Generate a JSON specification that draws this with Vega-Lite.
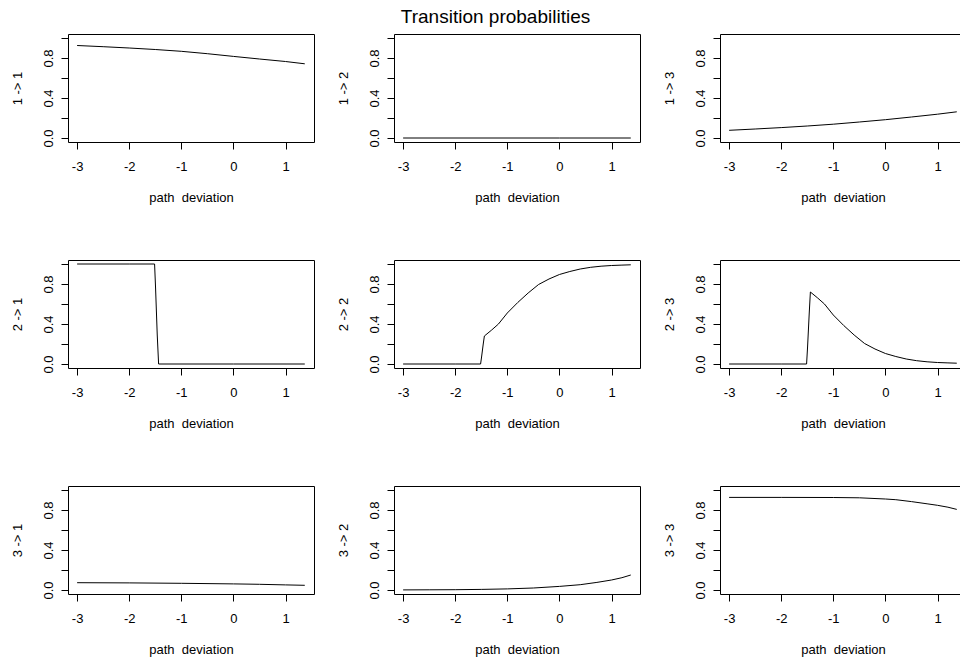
{
  "$schema": "https://vega.github.io/schema/vega-lite/v6.json",
  "padding": {"left": 10, "top": 7, "right": 0, "bottom": 0},
  "background": "white",
  "title": {"text": "Transition probabilities", "fontSize": 19, "fontWeight": "normal", "font": "Liberation Sans", "color": "black", "anchor": "middle", "baseline": "alphabetic", "offset": -8, "dx": 7},
  "data": {"values": [
    {"p": "1 -> 1", "x": -3, "y": 0.925}, {"p": "1 -> 1", "x": -2.5, "y": 0.913}, {"p": "1 -> 1", "x": -2, "y": 0.9}, {"p": "1 -> 1", "x": -1.5, "y": 0.885}, {"p": "1 -> 1", "x": -1, "y": 0.867}, {"p": "1 -> 1", "x": -0.5, "y": 0.843}, {"p": "1 -> 1", "x": 0, "y": 0.816}, {"p": "1 -> 1", "x": 0.5, "y": 0.79}, {"p": "1 -> 1", "x": 1, "y": 0.765}, {"p": "1 -> 1", "x": 1.37, "y": 0.742},
    {"p": "1 -> 2", "x": -3, "y": 0}, {"p": "1 -> 2", "x": 0, "y": 0}, {"p": "1 -> 2", "x": 1.37, "y": 0},
    {"p": "1 -> 3", "x": -3, "y": 0.077}, {"p": "1 -> 3", "x": -2.5, "y": 0.09}, {"p": "1 -> 3", "x": -2, "y": 0.104}, {"p": "1 -> 3", "x": -1.5, "y": 0.12}, {"p": "1 -> 3", "x": -1, "y": 0.138}, {"p": "1 -> 3", "x": -0.5, "y": 0.16}, {"p": "1 -> 3", "x": 0, "y": 0.183}, {"p": "1 -> 3", "x": 0.5, "y": 0.21}, {"p": "1 -> 3", "x": 1, "y": 0.238}, {"p": "1 -> 3", "x": 1.37, "y": 0.262},
    {"p": "2 -> 1", "x": -3, "y": 1}, {"p": "2 -> 1", "x": -2, "y": 1}, {"p": "2 -> 1", "x": -1.513, "y": 1}, {"p": "2 -> 1", "x": -1.494, "y": 0.76}, {"p": "2 -> 1", "x": -1.462, "y": 0.29}, {"p": "2 -> 1", "x": -1.436, "y": 0}, {"p": "2 -> 1", "x": 0, "y": 0}, {"p": "2 -> 1", "x": 1.37, "y": 0},
    {"p": "2 -> 2", "x": -3, "y": 0}, {"p": "2 -> 2", "x": -2, "y": 0}, {"p": "2 -> 2", "x": -1.513, "y": 0}, {"p": "2 -> 2", "x": -1.494, "y": 0.07}, {"p": "2 -> 2", "x": -1.462, "y": 0.2}, {"p": "2 -> 2", "x": -1.44, "y": 0.28}, {"p": "2 -> 2", "x": -1.3, "y": 0.34}, {"p": "2 -> 2", "x": -1.17, "y": 0.4}, {"p": "2 -> 2", "x": -1.0, "y": 0.51}, {"p": "2 -> 2", "x": -0.8, "y": 0.615}, {"p": "2 -> 2", "x": -0.6, "y": 0.71}, {"p": "2 -> 2", "x": -0.4, "y": 0.795}, {"p": "2 -> 2", "x": -0.2, "y": 0.85}, {"p": "2 -> 2", "x": 0, "y": 0.895}, {"p": "2 -> 2", "x": 0.2, "y": 0.925}, {"p": "2 -> 2", "x": 0.4, "y": 0.95}, {"p": "2 -> 2", "x": 0.6, "y": 0.967}, {"p": "2 -> 2", "x": 0.8, "y": 0.978}, {"p": "2 -> 2", "x": 1.0, "y": 0.985}, {"p": "2 -> 2", "x": 1.2, "y": 0.989}, {"p": "2 -> 2", "x": 1.37, "y": 0.992},
    {"p": "2 -> 3", "x": -3, "y": 0}, {"p": "2 -> 3", "x": -2, "y": 0}, {"p": "2 -> 3", "x": -1.513, "y": 0}, {"p": "2 -> 3", "x": -1.494, "y": 0.17}, {"p": "2 -> 3", "x": -1.462, "y": 0.51}, {"p": "2 -> 3", "x": -1.44, "y": 0.72}, {"p": "2 -> 3", "x": -1.3, "y": 0.66}, {"p": "2 -> 3", "x": -1.17, "y": 0.6}, {"p": "2 -> 3", "x": -1.0, "y": 0.49}, {"p": "2 -> 3", "x": -0.8, "y": 0.385}, {"p": "2 -> 3", "x": -0.6, "y": 0.29}, {"p": "2 -> 3", "x": -0.4, "y": 0.205}, {"p": "2 -> 3", "x": -0.2, "y": 0.15}, {"p": "2 -> 3", "x": 0, "y": 0.105}, {"p": "2 -> 3", "x": 0.2, "y": 0.075}, {"p": "2 -> 3", "x": 0.4, "y": 0.05}, {"p": "2 -> 3", "x": 0.6, "y": 0.033}, {"p": "2 -> 3", "x": 0.8, "y": 0.022}, {"p": "2 -> 3", "x": 1.0, "y": 0.015}, {"p": "2 -> 3", "x": 1.2, "y": 0.011}, {"p": "2 -> 3", "x": 1.37, "y": 0.008},
    {"p": "3 -> 1", "x": -3, "y": 0.073}, {"p": "3 -> 1", "x": -2, "y": 0.071}, {"p": "3 -> 1", "x": -1, "y": 0.067}, {"p": "3 -> 1", "x": 0, "y": 0.061}, {"p": "3 -> 1", "x": 0.5, "y": 0.057}, {"p": "3 -> 1", "x": 1, "y": 0.051}, {"p": "3 -> 1", "x": 1.37, "y": 0.047},
    {"p": "3 -> 2", "x": -3, "y": 0.001}, {"p": "3 -> 2", "x": -2.5, "y": 0.002}, {"p": "3 -> 2", "x": -2, "y": 0.003}, {"p": "3 -> 2", "x": -1.5, "y": 0.006}, {"p": "3 -> 2", "x": -1, "y": 0.011}, {"p": "3 -> 2", "x": -0.5, "y": 0.02}, {"p": "3 -> 2", "x": 0, "y": 0.036}, {"p": "3 -> 2", "x": 0.4, "y": 0.053}, {"p": "3 -> 2", "x": 0.72, "y": 0.076}, {"p": "3 -> 2", "x": 1.0, "y": 0.1}, {"p": "3 -> 2", "x": 1.2, "y": 0.123}, {"p": "3 -> 2", "x": 1.37, "y": 0.15},
    {"p": "3 -> 3", "x": -3, "y": 0.926}, {"p": "3 -> 3", "x": -2, "y": 0.926}, {"p": "3 -> 3", "x": -1, "y": 0.925}, {"p": "3 -> 3", "x": -0.5, "y": 0.922}, {"p": "3 -> 3", "x": 0, "y": 0.91}, {"p": "3 -> 3", "x": 0.2, "y": 0.903}, {"p": "3 -> 3", "x": 0.5, "y": 0.884}, {"p": "3 -> 3", "x": 0.8, "y": 0.862}, {"p": "3 -> 3", "x": 1.0, "y": 0.847}, {"p": "3 -> 3", "x": 1.2, "y": 0.828}, {"p": "3 -> 3", "x": 1.37, "y": 0.806}
  ]},
  "columns": 3,
  "bounds": "flush",
  "spacing": {"row": 118, "column": 80},
  "concat": [
    {"width": 246, "height": 108, "transform": [{"filter": "datum.p == '1 -> 1'"}], "mark": {"type": "line"}, "encoding": {"x": {"field": "x", "type": "quantitative", "scale": {"domain": [-3.175, 1.547], "nice": false, "zero": false}, "axis": {"title": "path\u00a0 deviation", "values": [-3, -2, -1, 0, 1]}}, "y": {"field": "y", "type": "quantitative", "scale": {"domain": [-0.04, 1.04], "nice": false, "zero": false}, "axis": {"title": "1 -> 1", "values": [0, 0.2, 0.4, 0.6, 0.8, 1]}}}},
    {"width": 246, "height": 108, "transform": [{"filter": "datum.p == '1 -> 2'"}], "mark": {"type": "line"}, "encoding": {"x": {"field": "x", "type": "quantitative", "scale": {"domain": [-3.175, 1.547], "nice": false, "zero": false}, "axis": {"title": "path\u00a0 deviation", "values": [-3, -2, -1, 0, 1]}}, "y": {"field": "y", "type": "quantitative", "scale": {"domain": [-0.04, 1.04], "nice": false, "zero": false}, "axis": {"title": "1 -> 2", "values": [0, 0.2, 0.4, 0.6, 0.8, 1]}}}},
    {"width": 246, "height": 108, "transform": [{"filter": "datum.p == '1 -> 3'"}], "mark": {"type": "line"}, "encoding": {"x": {"field": "x", "type": "quantitative", "scale": {"domain": [-3.175, 1.547], "nice": false, "zero": false}, "axis": {"title": "path\u00a0 deviation", "values": [-3, -2, -1, 0, 1]}}, "y": {"field": "y", "type": "quantitative", "scale": {"domain": [-0.04, 1.04], "nice": false, "zero": false}, "axis": {"title": "1 -> 3", "values": [0, 0.2, 0.4, 0.6, 0.8, 1]}}}},
    {"width": 246, "height": 108, "transform": [{"filter": "datum.p == '2 -> 1'"}], "mark": {"type": "line"}, "encoding": {"x": {"field": "x", "type": "quantitative", "scale": {"domain": [-3.175, 1.547], "nice": false, "zero": false}, "axis": {"title": "path\u00a0 deviation", "values": [-3, -2, -1, 0, 1]}}, "y": {"field": "y", "type": "quantitative", "scale": {"domain": [-0.04, 1.04], "nice": false, "zero": false}, "axis": {"title": "2 -> 1", "values": [0, 0.2, 0.4, 0.6, 0.8, 1]}}}},
    {"width": 246, "height": 108, "transform": [{"filter": "datum.p == '2 -> 2'"}], "mark": {"type": "line"}, "encoding": {"x": {"field": "x", "type": "quantitative", "scale": {"domain": [-3.175, 1.547], "nice": false, "zero": false}, "axis": {"title": "path\u00a0 deviation", "values": [-3, -2, -1, 0, 1]}}, "y": {"field": "y", "type": "quantitative", "scale": {"domain": [-0.04, 1.04], "nice": false, "zero": false}, "axis": {"title": "2 -> 2", "values": [0, 0.2, 0.4, 0.6, 0.8, 1]}}}},
    {"width": 246, "height": 108, "transform": [{"filter": "datum.p == '2 -> 3'"}], "mark": {"type": "line"}, "encoding": {"x": {"field": "x", "type": "quantitative", "scale": {"domain": [-3.175, 1.547], "nice": false, "zero": false}, "axis": {"title": "path\u00a0 deviation", "values": [-3, -2, -1, 0, 1]}}, "y": {"field": "y", "type": "quantitative", "scale": {"domain": [-0.04, 1.04], "nice": false, "zero": false}, "axis": {"title": "2 -> 3", "values": [0, 0.2, 0.4, 0.6, 0.8, 1]}}}},
    {"width": 246, "height": 108, "transform": [{"filter": "datum.p == '3 -> 1'"}], "mark": {"type": "line"}, "encoding": {"x": {"field": "x", "type": "quantitative", "scale": {"domain": [-3.175, 1.547], "nice": false, "zero": false}, "axis": {"title": "path\u00a0 deviation", "values": [-3, -2, -1, 0, 1]}}, "y": {"field": "y", "type": "quantitative", "scale": {"domain": [-0.04, 1.04], "nice": false, "zero": false}, "axis": {"title": "3 -> 1", "values": [0, 0.2, 0.4, 0.6, 0.8, 1]}}}},
    {"width": 246, "height": 108, "transform": [{"filter": "datum.p == '3 -> 2'"}], "mark": {"type": "line"}, "encoding": {"x": {"field": "x", "type": "quantitative", "scale": {"domain": [-3.175, 1.547], "nice": false, "zero": false}, "axis": {"title": "path\u00a0 deviation", "values": [-3, -2, -1, 0, 1]}}, "y": {"field": "y", "type": "quantitative", "scale": {"domain": [-0.04, 1.04], "nice": false, "zero": false}, "axis": {"title": "3 -> 2", "values": [0, 0.2, 0.4, 0.6, 0.8, 1]}}}},
    {"width": 246, "height": 108, "transform": [{"filter": "datum.p == '3 -> 3'"}], "mark": {"type": "line"}, "encoding": {"x": {"field": "x", "type": "quantitative", "scale": {"domain": [-3.175, 1.547], "nice": false, "zero": false}, "axis": {"title": "path\u00a0 deviation", "values": [-3, -2, -1, 0, 1]}}, "y": {"field": "y", "type": "quantitative", "scale": {"domain": [-0.04, 1.04], "nice": false, "zero": false}, "axis": {"title": "3 -> 3", "values": [0, 0.2, 0.4, 0.6, 0.8, 1]}}}}
  ],
  "config": {
    "font": "Liberation Sans",
    "view": {"stroke": "black", "strokeWidth": 1},
    "line": {"color": "black", "strokeWidth": 1},
    "axis": {"domain": false, "grid": false, "ticks": true, "tickColor": "black", "tickSize": 7, "tickWidth": 1, "labelColor": "black", "labelFontSize": 13, "labelFont": "Liberation Sans", "titleFont": "Liberation Sans", "titleFontSize": 13, "titleFontWeight": "normal", "titleColor": "black", "labelOverlap": false, "labelFlush": false},
    "axisX": {"labelPadding": 11, "titlePadding": 18, "labelExpr": "datum.value + ''"},
    "axisY": {"labelAngle": 270, "labelPadding": 6, "titlePadding": 18, "labelExpr": "(datum.value == 0 || datum.value == 0.4 || datum.value == 0.8) ? format(datum.value, '.1f') : ''"}
  }
}
